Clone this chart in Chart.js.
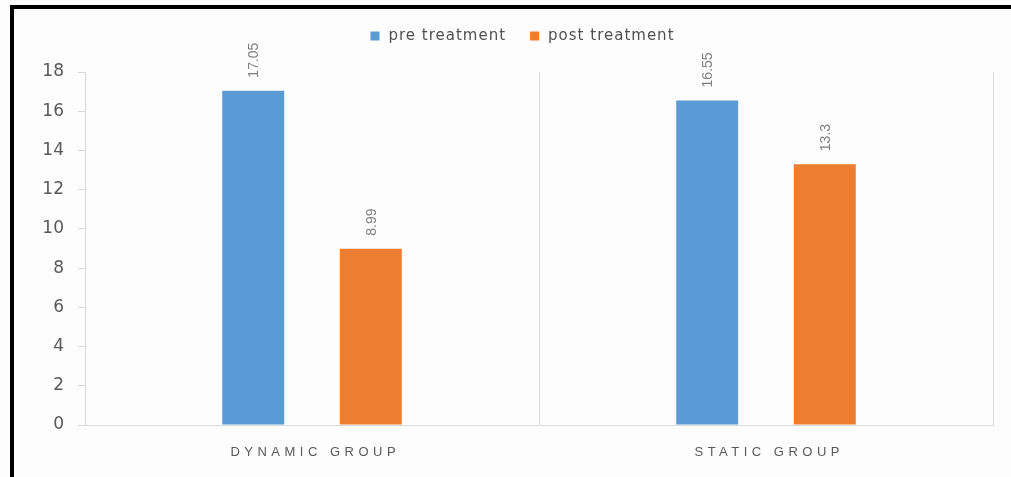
<!DOCTYPE html>
<html>
<head>
<meta charset="utf-8">
<style>
  html, body { margin: 0; padding: 0; background: #ffffff; }
  #wrap { position: relative; width: 1011px; height: 477px; }
</style>
<script src="https://cdn.jsdelivr.net/npm/chart.js@4/dist/chart.umd.min.js"></script>
</head>
<body>
<div id="wrap"><canvas id="chart" width="1011" height="477"></canvas></div>
<script>
// Pain scores before and after treatment, per group
const categories = ['DYNAMIC GROUP', 'STATIC GROUP'];
const seriesLabels = ['pre treatment', 'post treatment'];
const preTreatment = [17.05, 16.55];
const postTreatment = [8.99, 13.3];
const yTickValues = [0, 2, 4, 6, 8, 10, 12, 14, 16, 18];

const seriesColors = ['#5b9bd5', '#ed7d31'];
const textGray = '#595959';
const lineGray = '#d9d9d9';

// Frame, value labels, category labels and legend drawn on the canvas
const decorPlugin = {
  id: 'decor',
  beforeDraw(chart) {
    const { ctx, width, height } = chart;
    ctx.save();
    ctx.fillStyle = '#fdfdfd';
    ctx.fillRect(0, 0, width, height);
    ctx.fillStyle = '#000000';
    ctx.fillRect(10, 5, 4, height - 5);
    ctx.fillRect(10, 5, width - 10, 4);
    ctx.restore();
  },
  afterDatasetsDraw(chart) {
    const ctx = chart.ctx;

    // rotated value labels above each bar
    chart.data.datasets.forEach((ds, i) => {
      const meta = chart.getDatasetMeta(i);
      meta.data.forEach((bar, j) => {
        ctx.save();
        ctx.translate(bar.x + 1, bar.y - 13);
        ctx.rotate(-Math.PI / 2);
        ctx.font = '14px "Liberation Sans", Arial, sans-serif';
        ctx.fillStyle = '#7f7f7f';
        ctx.textAlign = 'left';
        ctx.textBaseline = 'middle';
        ctx.fillText(String(ds.data[j]), 0, 0);
        ctx.restore();
      });
    });

    // spaced category labels under the axis
    const xs = chart.scales.x;
    ctx.save();
    ctx.font = '13px "Liberation Sans", Arial, sans-serif';
    ctx.fillStyle = textGray;
    ctx.textBaseline = 'middle';
    ctx.textAlign = 'left';
    const spacing = 4.5;
    if ('letterSpacing' in ctx) ctx.letterSpacing = spacing + 'px';
    chart.data.labels.forEach((label, j) => {
      const w = ctx.measureText(label).width - spacing;
      ctx.fillText(label, xs.getPixelForValue(j) - w / 2 + 1, 452);
    });
    ctx.restore();

    // legend
    ctx.save();
    ctx.font = '15px "DejaVu Sans", Verdana, sans-serif';
    ctx.textBaseline = 'middle';
    ctx.textAlign = 'left';
    const ls = 1;
    if ('letterSpacing' in ctx) ctx.letterSpacing = ls + 'px';
    const box = 9, boxGap = 9, itemGap = 25, cy = 36;
    const items = chart.data.datasets.map(ds => ({
      label: ds.label,
      color: ds.backgroundColor,
      w: ctx.measureText(ds.label).width - ls
    }));
    const total = items.reduce((s, it) => s + box + boxGap + it.w, 0) + itemGap * (items.length - 1);
    let x = 522 - total / 2;
    items.forEach(it => {
      ctx.fillStyle = it.color;
      ctx.fillRect(x, cy - box / 2, box, box);
      x += box + boxGap;
      ctx.fillStyle = '#505050';
      ctx.fillText(it.label, x, cy);
      x += it.w + itemGap;
    });
    ctx.restore();
  }
};

new Chart(document.getElementById('chart'), {
  type: 'bar',
  data: {
    labels: categories,
    datasets: [
      { label: seriesLabels[0], data: preTreatment, backgroundColor: seriesColors[0] },
      { label: seriesLabels[1], data: postTreatment, backgroundColor: seriesColors[1] }
    ]
  },
  options: {
    responsive: false,
    animation: false,
    devicePixelRatio: 1,
    categoryPercentage: 0.518,
    barPercentage: 0.527,
    layout: { padding: { left: 14, right: 18, top: 72, bottom: 0 } },
    plugins: {
      legend: { display: false },
      tooltip: { enabled: false }
    },
    scales: {
      x: {
        grid: { display: true, offset: true, drawTicks: false, color: lineGray, lineWidth: 1 },
        border: { display: true, color: lineGray },
        ticks: { display: false },
        afterFit(scale) { scale.height = 52; }
      },
      y: {
        min: 0,
        max: 18,
        afterBuildTicks(scale) { scale.ticks = yTickValues.map(v => ({ value: v })); },
        grid: { display: true, drawOnChartArea: false, drawTicks: true, tickLength: 7, color: lineGray },
        border: { display: true, color: lineGray },
        ticks: {
          padding: 14,
          color: textGray,
          font: { family: '"DejaVu Sans", Verdana, sans-serif', size: 17 }
        },
        afterFit(scale) { scale.width = 71; }
      }
    }
  },
  plugins: [decorPlugin]
});
</script>
</body>
</html>
